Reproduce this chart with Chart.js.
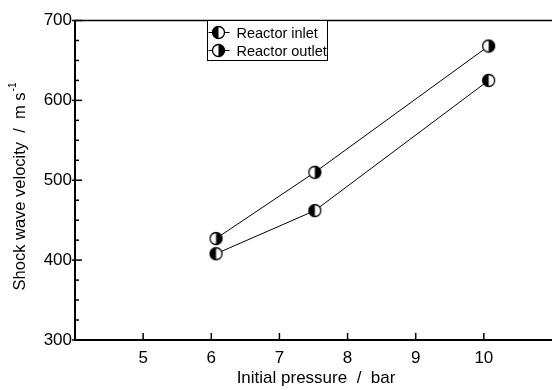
<!DOCTYPE html>
<html>
<head>
<meta charset="utf-8">
<script src="https://cdn.jsdelivr.net/npm/chart.js@4/dist/chart.umd.min.js"></script>
<style>
  html, body { margin: 0; padding: 0; background: #fff; overflow: hidden; }
  #wrap { width: 553px; height: 390px; overflow: hidden; }
</style>
</head>
<body>
<div id="wrap"><canvas id="myChart" width="560" height="390"></canvas></div>
<script>
// data
const pressureInlet = [6.07, 7.52, 10.07];
const velocityInlet = [408, 462, 625];
const pressureOutlet = [6.07, 7.52, 10.07];
const velocityOutlet = [427, 510, 668];
const seriesNames = ['Reactor inlet', 'Reactor outlet'];
const xTickValues = [5, 6, 7, 8, 9, 10];
const yTickValues = [300, 400, 500, 600, 700];
const yMinorStep = 25;

const FONT = '"Liberation Sans", Arial, sans-serif';

// half filled circle markers
function halfMarker(side) {
    const c = document.createElement('canvas');
    c.width = 15; c.height = 15;
    const g = c.getContext('2d');
    const cx = 7.5, cy = 7.5, r = 6;
    g.fillStyle = '#fff';
    g.beginPath(); g.arc(cx, cy, r, 0, Math.PI * 2); g.fill();
    g.fillStyle = '#000';
    g.beginPath();
    if (side === 'left') g.arc(cx, cy, r, Math.PI / 2, Math.PI * 1.5);
    else g.arc(cx, cy, r, -Math.PI / 2, Math.PI / 2);
    g.closePath(); g.fill();
    g.strokeStyle = '#000'; g.lineWidth = 1.3;
    g.beginPath(); g.arc(cx, cy, r, 0, Math.PI * 2); g.stroke();
    return c;
}
const markers = [halfMarker('left'), halfMarker('right')];

function toPoints(xs, ys) {
    return xs.map((x, i) => ({ x: x, y: ys[i] }));
}

// frame, inward ticks, titles and legend
const decorPlugin = {
    id: 'decor',
    afterDraw(chart) {
        const ctx = chart.ctx;
        const a = chart.chartArea;
        const xs = chart.scales.x, ys = chart.scales.y;
        ctx.save();
        ctx.strokeStyle = '#000';

        // frame
        ctx.lineWidth = 2;
        ctx.beginPath();
        ctx.moveTo(a.left, a.top); ctx.lineTo(a.left, a.bottom); ctx.lineTo(a.right, a.bottom);
        ctx.stroke();
        ctx.lineWidth = 1.5;
        ctx.beginPath(); ctx.moveTo(a.left, a.top); ctx.lineTo(a.right, a.top); ctx.stroke();

        // ticks
        ctx.lineWidth = 1.5;
        xTickValues.forEach(v => {
            const px = xs.getPixelForValue(v);
            ctx.beginPath(); ctx.moveTo(px, a.bottom); ctx.lineTo(px, a.bottom - 7); ctx.stroke();
        });
        for (let v = ys.min; v <= ys.max; v += yMinorStep) {
            const py = ys.getPixelForValue(v);
            const major = yTickValues.includes(v);
            ctx.beginPath();
            ctx.moveTo(a.left - (major ? 3 : 0), py);
            ctx.lineTo(a.left + (major ? 7 : 4), py);
            ctx.stroke();
        }

        // axis titles
        ctx.fillStyle = '#000';
        ctx.font = '17px ' + FONT;
        ctx.textAlign = 'center';
        ctx.textBaseline = 'middle';
        ctx.fillText('Initial pressure  /  bar', 316, 378);

        ctx.save();
        ctx.translate(20, 187);
        ctx.rotate(-Math.PI / 2);
        const main = 'Shock wave velocity  /  m s';
        ctx.font = '16.5px ' + FONT;
        const w1 = ctx.measureText(main).width;
        ctx.font = '10px ' + FONT;
        const w2 = ctx.measureText('-1').width;
        const start = -(w1 + w2) / 2;
        ctx.textAlign = 'left';
        ctx.font = '16.5px ' + FONT;
        ctx.fillText(main, start, 0);
        ctx.font = '10px ' + FONT;
        ctx.fillText('-1', start + w1 + 1, -7);
        ctx.restore();

        // legend box
        const bx = 207.5, by = a.top, bw = 120, bh = 40;
        ctx.fillStyle = '#fff';
        ctx.fillRect(bx, by, bw, bh);
        ctx.lineWidth = 1;
        ctx.strokeRect(bx, by, bw, bh);
        ctx.font = '14.5px ' + FONT;
        ctx.textAlign = 'left';
        ctx.fillStyle = '#000';
        seriesNames.forEach((name, i) => {
            const ly = by + 12 + i * 18;
            ctx.lineWidth = 1;
            ctx.beginPath(); ctx.moveTo(bx + 1, ly); ctx.lineTo(bx + 22, ly); ctx.stroke();
            ctx.drawImage(markers[i], bx + 11 - 7.5, ly - 7.5);
            ctx.fillText(name, bx + 29, ly + 1);
        });
        ctx.restore();
    }
};

const ctx = document.getElementById('myChart').getContext('2d');
const chart = new Chart(ctx, {
    type: 'scatter',
    data: {
        datasets: [
            {
                label: seriesNames[0],
                data: toPoints(pressureInlet, velocityInlet),
                showLine: true,
                borderColor: '#000',
                borderWidth: 1,
                pointStyle: markers[0],
                pointRadius: 7
            },
            {
                label: seriesNames[1],
                data: toPoints(pressureOutlet, velocityOutlet),
                showLine: true,
                borderColor: '#000',
                borderWidth: 1,
                pointStyle: markers[1],
                pointRadius: 7
            }
        ]
    },
    options: {
        responsive: false,
        animation: false,
        layout: { padding: { top: 20.5, right: 1.5, left: 0, bottom: 0 } },
        plugins: { legend: { display: false }, tooltip: { enabled: false } },
        scales: {
            x: {
                type: 'linear',
                min: 4,
                max: 11,
                grid: { display: false, drawTicks: false },
                border: { display: false },
                afterBuildTicks: s => { s.ticks = xTickValues.map(v => ({ value: v })); },
                afterFit: s => { s.height = 50; },
                ticks: { color: '#000', font: { family: FONT, size: 17 }, padding: 8, maxRotation: 0 }
            },
            y: {
                min: 300,
                max: 700,
                grid: { display: false, drawTicks: false },
                border: { display: false },
                afterBuildTicks: s => { s.ticks = yTickValues.map(v => ({ value: v })); },
                afterFit: s => { s.width = 75; },
                ticks: { color: '#000', font: { family: FONT, size: 17 }, padding: 3 }
            }
        }
    },
    plugins: [decorPlugin]
});
</script>
</body>
</html>
